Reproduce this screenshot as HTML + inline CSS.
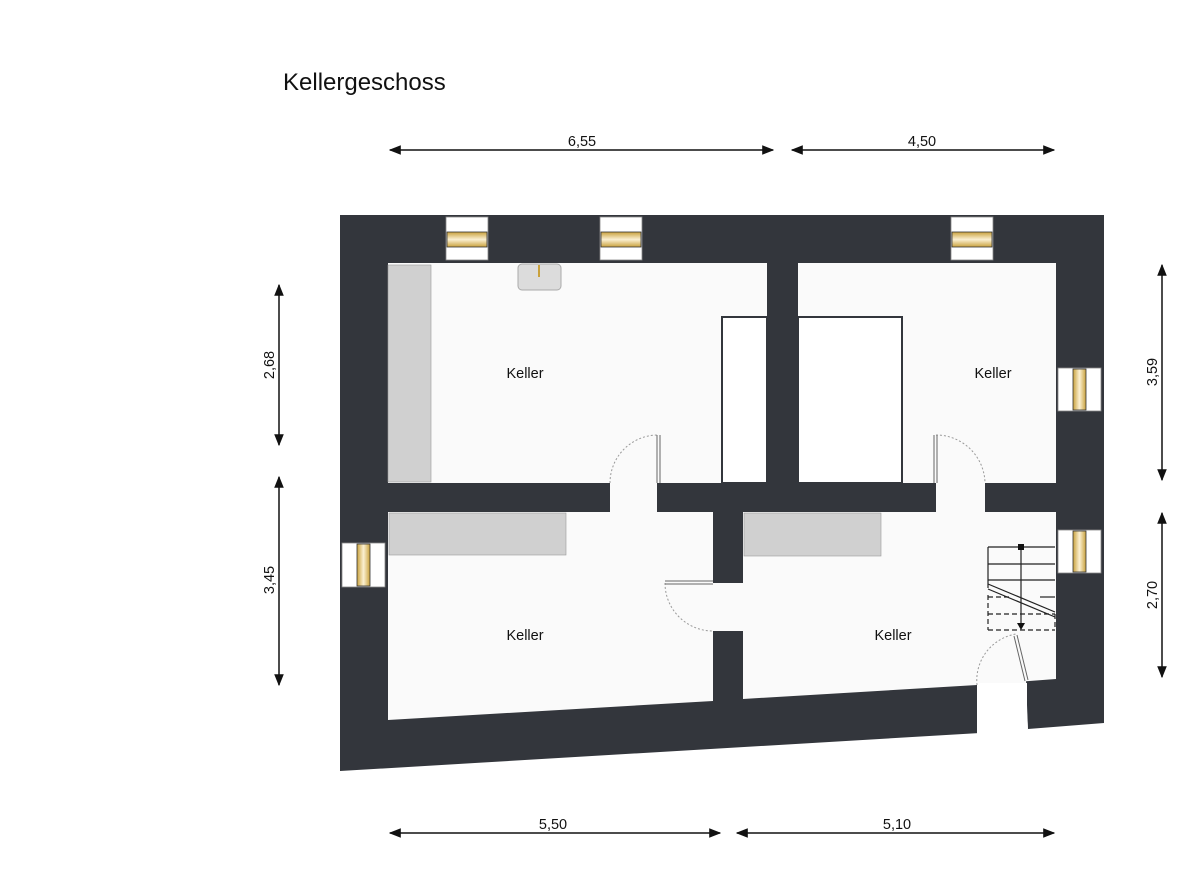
<!DOCTYPE html>
<html><head><meta charset="utf-8"><style>
html,body{margin:0;padding:0;background:#fff}
svg{display:block}
text{font-family:"Liberation Sans",Arial,sans-serif;fill:#111}
</style></head><body>
<svg width="1200" height="872" viewBox="0 0 1200 872" xmlns="http://www.w3.org/2000/svg">
<defs>
<linearGradient id="gh" x1="0" y1="0" x2="0" y2="1"><stop offset="0" stop-color="#c9a13c"/><stop offset="0.5" stop-color="#fbf0d2"/><stop offset="1" stop-color="#c9a13c"/></linearGradient>
<linearGradient id="gv" x1="0" y1="0" x2="1" y2="0"><stop offset="0" stop-color="#c9a13c"/><stop offset="0.5" stop-color="#fbf0d2"/><stop offset="1" stop-color="#c9a13c"/></linearGradient>
<marker id="ar" viewBox="0 0 10 10" refX="9" refY="5" markerWidth="8" markerHeight="8" orient="auto-start-reverse"><path d="M0,1 L10,5 L0,9 z" fill="#111"/></marker>
</defs>
<text x="283" y="90" font-size="24">Kellergeschoss</text>

<g stroke="#111" stroke-width="1.5" fill="none">
<line x1="390" y1="150" x2="773" y2="150" marker-start="url(#ar)" marker-end="url(#ar)"/>
<line x1="792" y1="150" x2="1054" y2="150" marker-start="url(#ar)" marker-end="url(#ar)"/>
<line x1="390" y1="833" x2="720" y2="833" marker-start="url(#ar)" marker-end="url(#ar)"/>
<line x1="737" y1="833" x2="1054" y2="833" marker-start="url(#ar)" marker-end="url(#ar)"/>
<line x1="279" y1="285" x2="279" y2="445" marker-start="url(#ar)" marker-end="url(#ar)"/>
<line x1="279" y1="477" x2="279" y2="685" marker-start="url(#ar)" marker-end="url(#ar)"/>
<line x1="1162" y1="265" x2="1162" y2="480" marker-start="url(#ar)" marker-end="url(#ar)"/>
<line x1="1162" y1="513" x2="1162" y2="677" marker-start="url(#ar)" marker-end="url(#ar)"/>
</g>
<g font-size="14.5" text-anchor="middle">
<text x="582" y="146">6,55</text>
<text x="922" y="146">4,50</text>
<text x="553" y="829">5,50</text>
<text x="897" y="829">5,10</text>
<text transform="translate(274,365) rotate(-90)">2,68</text>
<text transform="translate(274,580) rotate(-90)">3,45</text>
<text transform="translate(1157,372) rotate(-90)">3,59</text>
<text transform="translate(1157,595) rotate(-90)">2,70</text>
</g>

<polygon points="340,215 1104,215 1104,723 1028,729 1025,680 977,685 980,733 340,771" fill="#33363c"/>
<g fill="#fafafa">
<rect x="388" y="263" width="379" height="220"/>
<rect x="798" y="263" width="258" height="220"/>
<polygon points="388,512 713,512 713,701 388,720"/>
<polygon points="743,512 1056,512 1056,679 977,685 743,699"/>
<rect x="610" y="482" width="47" height="31"/>
<rect x="936" y="482" width="49" height="31"/>
<rect x="712" y="583" width="32" height="48"/>
<polygon points="977,684 1026,680 1028,730 980,734"/>
</g>
<rect x="977" y="683" width="50" height="52" fill="#fff"/>

<rect x="388" y="265" width="43" height="217" fill="#d0d0d0" stroke="#999" stroke-width="0.6"/>
<rect x="518" y="264" width="43" height="26" rx="4" fill="#dcdcdc" stroke="#aaa"/>
<line x1="539" y1="265" x2="539" y2="277" stroke="#c9a13c" stroke-width="2"/>
<rect x="722" y="317" width="45" height="166" fill="#fff" stroke="#33363c" stroke-width="2"/>
<rect x="798" y="317" width="104" height="166" fill="#fff" stroke="#33363c" stroke-width="2"/>
<rect x="389" y="513" width="177" height="42" fill="#d0d0d0" stroke="#999" stroke-width="0.6"/>
<rect x="744" y="513" width="137" height="43" fill="#d0d0d0" stroke="#999" stroke-width="0.6"/>

<g stroke="#888" stroke-width="0.8">
<rect x="446" y="217" width="42" height="43" fill="#fff"/>
<rect x="447" y="232" width="40" height="15" fill="url(#gh)" stroke="#333"/>
<rect x="600" y="217" width="42" height="43" fill="#fff"/>
<rect x="601" y="232" width="40" height="15" fill="url(#gh)" stroke="#333"/>
<rect x="951" y="217" width="42" height="43" fill="#fff"/>
<rect x="952" y="232" width="40" height="15" fill="url(#gh)" stroke="#333"/>
<rect x="342" y="543" width="43" height="44" fill="#fff"/>
<rect x="357" y="544" width="13" height="42" fill="url(#gv)" stroke="#333"/>
<rect x="1058" y="368" width="43" height="43" fill="#fff"/>
<rect x="1073" y="369" width="13" height="41" fill="url(#gv)" stroke="#333"/>
<rect x="1058" y="530" width="43" height="43" fill="#fff"/>
<rect x="1073" y="531" width="13" height="41" fill="url(#gv)" stroke="#333"/>
</g>

<g fill="none" stroke="#999" stroke-width="1" stroke-dasharray="2,2">
<path d="M610,483 A48,48 0 0 1 658,435"/>
<path d="M936,435 A49,49 0 0 1 985,483"/>
<path d="M665,583 A48,48 0 0 0 713,631"/>
<path d="M977,685 A47,47 0 0 1 1016,634"/>
</g>
<g stroke="#666" stroke-width="1" fill="none">
<line x1="657" y1="435" x2="657" y2="483"/><line x1="660" y1="435" x2="660" y2="483"/>
<line x1="934" y1="435" x2="934" y2="483"/><line x1="937" y1="435" x2="937" y2="483"/>
<line x1="665" y1="581" x2="713" y2="581"/><line x1="665" y1="584" x2="713" y2="584"/>
<line x1="1014" y1="636" x2="1025" y2="681"/><line x1="1017" y1="635" x2="1028" y2="680"/>
</g>

<g stroke="#222" stroke-width="1.2" fill="none">
<line x1="988" y1="547" x2="1055" y2="547"/>
<line x1="988" y1="564" x2="1055" y2="564"/>
<line x1="988" y1="580" x2="1055" y2="580"/>
<line x1="1040" y1="597" x2="1055" y2="597"/>
<line x1="988" y1="547" x2="988" y2="588"/>
<line x1="988" y1="584" x2="1055" y2="612"/>
<line x1="988" y1="589" x2="1055" y2="617"/>
<line x1="1021" y1="547" x2="1021" y2="625"/>
</g>
<g stroke="#222" stroke-width="1.2" fill="none" stroke-dasharray="5,3">
<line x1="988" y1="597" x2="1010" y2="597"/>
<line x1="988" y1="614" x2="1055" y2="614"/>
<line x1="988" y1="630" x2="1055" y2="630"/>
<line x1="988" y1="595" x2="988" y2="630"/>
<line x1="1055" y1="614" x2="1055" y2="630"/>
</g>
<rect x="1018" y="544" width="6" height="6" fill="#111"/>
<path d="M1017,623 L1025,623 L1021,630 z" fill="#111"/>

<g font-size="14.5" text-anchor="middle">
<text x="525" y="378">Keller</text>
<text x="993" y="378">Keller</text>
<text x="525" y="640">Keller</text>
<text x="893" y="640">Keller</text>
</g>
</svg>
</body></html>
